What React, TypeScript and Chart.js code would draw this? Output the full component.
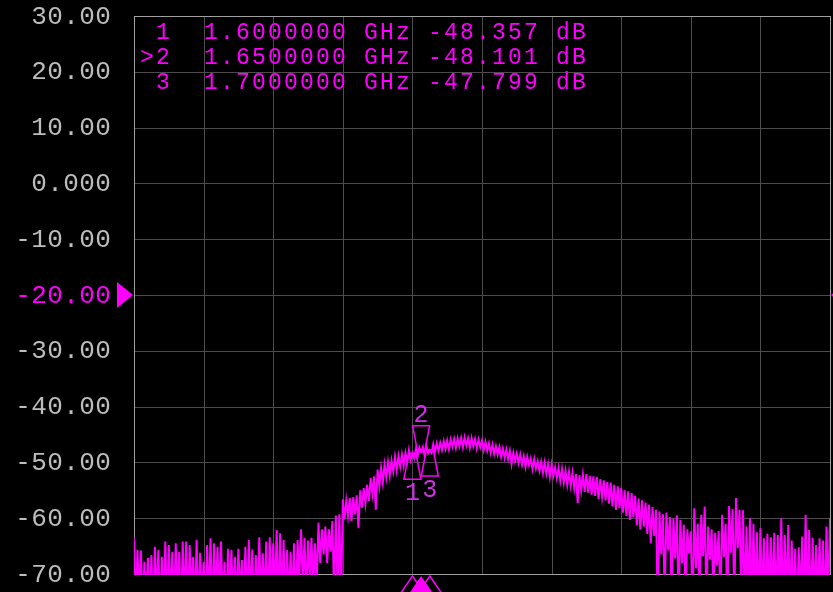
import React, { useEffect, useRef } from "react";
import { Chart, registerables } from "chart.js";

Chart.register(...registerables);

// ---------------- data ----------------
const FREQ_START_GHZ = 0;
const FREQ_STOP_GHZ = 4;
const X_GRID_GHZ = [0, 0.4, 0.8, 1.2, 1.6, 2.0, 2.4, 2.8, 3.2, 3.6, 4.0];
const Y_TICKS = [30, 20, 10, 0, -10, -20, -30, -40, -50, -60, -70];
const Y_TICK_LABELS = ["30.00", "20.00", "10.00", "0.000", "-10.00", "-20.00", "-30.00", "-40.00", "-50.00", "-60.00", "-70.00"];
const REF_LEVEL_DB = -20;

const MARKER_IDS = ["1", "2", "3"];
const MARKER_FREQ_GHZ = [1.6, 1.65, 1.7];
const MARKER_FREQ_TEXT = ["1.6000000 GHz", "1.6500000 GHz", "1.7000000 GHz"];
const MARKER_VALUE_DB = [-48.357, -48.101, -47.799];
const ACTIVE_MARKER = 1;
const MARKER_BELOW = [true, false, true];

// trace, dB, one value per sweep point (401 points from start to stop)
const TRACE_DB = [
  -63.4, -76.2, -65.7, -74.8, -65.8, -77.1, -67.8, -73.9, -67.1, -75.5,
  -66.6, -78.0, -65.1, -74.2, -65.7, -76.6, -66.9, -75.0, -64.2, -77.3,
  -64.8, -74.6, -66.0, -76.1, -64.5, -73.8, -66.0, -77.5, -64.2, -75.2,
  -64.2, -76.8, -64.8, -74.1, -66.9, -75.9, -63.9, -77.0, -66.2, -74.4,
  -67.8, -76.3, -64.8, -75.1, -63.6, -77.8, -64.5, -74.7, -65.1, -76.0,
  -64.2, -75.4, -67.8, -77.2, -65.5, -74.0, -65.7, -76.5, -66.9, -75.3,
  -65.5, -73.7, -67.5, -76.9, -65.1, -75.6, -63.9, -74.5, -65.6, -77.4,
  -66.6, -75.0, -63.4, -76.2, -66.3, -74.3, -64.2, -77.1, -63.4, -75.7,
  -64.5, -73.9, -62.1, -76.4, -62.7, -74.9, -63.9, -77.6, -65.7, -75.1,
  -66.0, -74.2, -64.5, -76.7, -63.9, -71.0, -62.0, -72.0, -63.5, -74.0,
  -64.0, -71.0, -63.5, -73.0, -64.5, -72.0, -60.8, -68.0, -62.0, -66.5,
  -61.5, -68.0, -62.0, -66.0, -60.5, -74.0, -59.5, -73.0, -59.3, -75.0,
  -56.6, -60.2, -56.9, -59.6, -56.4, -60.5, -56.2, -59.3, -55.9, -61.8,
  -55.0, -58.1, -54.6, -57.4, -54.0, -56.9, -52.8, -55.6, -52.5, -58.5,
  -51.3, -54.2, -51.0, -53.6, -50.4, -52.7, -50.0, -52.4, -49.7, -51.6,
  -49.0, -51.4, -48.9, -50.8, -48.6, -50.6, -48.3, -49.9, -47.8, -49.6,
  -48.357, -49.3, -47.6, -48.9, -47.3, -48.101, -47.2, -48.8, -47.0, -48.4,
  -47.799, -48.3, -46.7, -48.1, -46.6, -47.9, -46.5, -47.8, -46.2, -47.6,
  -46.1, -47.7, -45.9, -47.2, -45.8, -47.4, -45.7, -47.1, -45.6, -47.3,
  -45.5, -47.0, -45.7, -47.4, -45.6, -47.1, -45.8, -47.5, -45.9, -47.3,
  -46.1, -47.8, -46.3, -47.9, -46.6, -48.3, -46.8, -48.5, -47.1, -48.6,
  -47.2, -49.0, -47.5, -49.2, -47.7, -49.4, -47.9, -50.3, -48.3, -49.8,
  -48.4, -50.1, -48.6, -50.4, -48.9, -50.8, -49.0, -50.5, -49.3, -51.2,
  -49.4, -51.1, -49.8, -51.5, -49.9, -51.9, -50.0, -52.0, -50.3, -52.6,
  -50.4, -52.4, -50.9, -52.8, -51.0, -53.3, -51.2, -53.6, -51.5, -54.0,
  -51.7, -54.2, -51.9, -54.6, -52.1, -57.3, -52.3, -55.0, -52.2, -55.3,
  -52.1, -55.4, -52.4, -55.8, -52.5, -56.0, -52.6, -56.6, -53.0, -56.2,
  -53.2, -56.8, -53.5, -57.4, -53.6, -57.9, -54.0, -58.5, -54.3, -58.2,
  -54.6, -59.0, -55.0, -59.6, -55.2, -60.3, -55.5, -59.8, -56.0, -61.3,
  -56.5, -62.0, -56.8, -61.5, -57.2, -62.8, -57.6, -64.5, -58.0, -63.2,
  -58.5, -76.0, -58.8, -66.5, -59.3, -74.0, -59.0, -65.8, -59.8, -75.5,
  -60.1, -67.2, -59.5, -76.3, -60.3, -68.0, -61.2, -74.8, -62.0, -66.3,
  -62.4, -77.0, -58.2, -69.0, -61.0, -75.2, -59.4, -66.8, -57.9, -76.1,
  -61.5, -67.4, -62.0, -74.4, -62.6, -68.5, -62.3, -75.8, -59.4, -67.0,
  -61.0, -76.4, -57.8, -66.2, -58.4, -74.9, -56.4, -65.4, -58.5, -73.5,
  -58.6, -76.5, -61.5, -74.2, -60.0, -77.3, -61.0, -75.0, -62.5, -76.8,
  -61.8, -74.5, -63.6, -77.1, -62.8, -75.6, -63.4, -74.0, -62.6, -76.7,
  -63.0, -75.3, -60.0, -77.4, -63.0, -74.8, -61.2, -76.2, -64.0, -75.1,
  -65.5, -77.0, -65.2, -74.3, -63.3, -76.9, -59.4, -75.4, -62.1, -77.6,
  -63.5, -74.6, -64.8, -76.0, -63.6, -75.2, -64.0, -77.2, -61.5, -74.7,
  -60.0,
];

// ---------------- style ----------------
const TRACE_COLOR = "#ff00ff";
const GRID_COLOR = "#4c4c4c";
const BORDER_COLOR = "#a0a0a0";
const LABEL_COLOR = "#bcbcbc";
const MARKER_LABEL_COLOR = "#d030e8";
const MONO = "'Liberation Mono', 'DejaVu Sans Mono', monospace";
const CHAR_W = 16;

function drawMono(ctx: CanvasRenderingContext2D, text: string, x0: number, baseline: number) {
  ctx.textAlign = "center";
  ctx.textBaseline = "alphabetic";
  for (let k = 0; k < text.length; k++) {
    const ch = text[k];
    if (ch !== " ") ctx.fillText(ch, x0 + k * CHAR_W + CHAR_W / 2, baseline);
  }
}

const vnaPlugin = {
  id: "vnaDecor",
  beforeDatasetsDraw(chart: any) {
    const { ctx, chartArea: a, scales } = chart;
    const xs = scales.x;
    const ys = scales.y;
    ctx.save();
    ctx.lineWidth = 1;
    ctx.strokeStyle = GRID_COLOR;
    ctx.beginPath();
    for (const g of X_GRID_GHZ) {
      const px = Math.round(xs.getPixelForValue(g)) + 0.5;
      ctx.moveTo(px, a.top);
      ctx.lineTo(px, a.bottom);
    }
    for (const t of Y_TICKS) {
      const py = Math.round(ys.getPixelForValue(t)) + 0.5;
      ctx.moveTo(a.left, py);
      ctx.lineTo(a.right, py);
    }
    ctx.stroke();
    ctx.strokeStyle = BORDER_COLOR;
    ctx.strokeRect(Math.round(a.left) + 0.5, Math.round(a.top) + 0.5, Math.round(a.right - a.left), Math.round(a.bottom - a.top));
    ctx.restore();
  },
  afterDraw(chart: any) {
    const { ctx, chartArea: a, scales } = chart;
    const xs = scales.x;
    const ys = scales.y;
    ctx.save();

    // y labels
    ctx.font = `26px ${MONO}`;
    Y_TICKS.forEach((t, i) => {
      const label = Y_TICK_LABELS[i];
      const py = ys.getPixelForValue(t);
      ctx.fillStyle = t === REF_LEVEL_DB ? TRACE_COLOR : LABEL_COLOR;
      const x0 = 111 - label.length * CHAR_W;
      drawMono(ctx, label, x0, py + 7.5);
    });

    // reference level triangles
    const ry = ys.getPixelForValue(REF_LEVEL_DB);
    ctx.fillStyle = TRACE_COLOR;
    ctx.beginPath();
    ctx.moveTo(a.left - 1, ry);
    ctx.lineTo(a.left - 17, ry - 13);
    ctx.lineTo(a.left - 17, ry + 13);
    ctx.closePath();
    ctx.fill();
    ctx.beginPath();
    ctx.moveTo(a.right + 1, ry);
    ctx.lineTo(a.right + 13, ry - 10);
    ctx.lineTo(a.right + 13, ry + 10);
    ctx.closePath();
    ctx.fill();

    // marker table
    ctx.font = `23px ${MONO}`;
    ctx.fillStyle = TRACE_COLOR;
    MARKER_IDS.forEach((id, i) => {
      const row = (i === ACTIVE_MARKER ? ">" : " ") + id + "  " + MARKER_FREQ_TEXT[i] + " " + MARKER_VALUE_DB[i].toFixed(3) + " dB";
      drawMono(ctx, row, 139, 39 + i * 25);
    });

    // markers on trace
    ctx.lineWidth = 1.5;
    ctx.strokeStyle = TRACE_COLOR;
    MARKER_IDS.forEach((id, i) => {
      const cx = xs.getPixelForValue(MARKER_FREQ_GHZ[i]);
      const cy = ys.getPixelForValue(MARKER_VALUE_DB[i]);
      const dir = MARKER_BELOW[i] ? 1 : -1;
      ctx.beginPath();
      ctx.moveTo(cx - 3.5, cy);
      ctx.lineTo(cx + 3.5, cy);
      ctx.lineTo(cx + 8.5, cy + dir * 26);
      ctx.lineTo(cx - 8.5, cy + dir * 26);
      ctx.closePath();
      ctx.stroke();
      ctx.font = `25px ${MONO}`;
      ctx.fillStyle = MARKER_LABEL_COLOR;
      ctx.textAlign = "center";
      ctx.textBaseline = "alphabetic";
      ctx.fillText(id, cx, MARKER_BELOW[i] ? cy + 47 : cy - 30);
    });

    // stimulus markers under the x axis
    const baseY = a.bottom + 2;
    MARKER_IDS.forEach((id, i) => {
      const cx = xs.getPixelForValue(MARKER_FREQ_GHZ[i]);
      ctx.beginPath();
      ctx.moveTo(cx, baseY);
      ctx.lineTo(cx + 13, baseY + 19);
      ctx.lineTo(cx - 13, baseY + 19);
      ctx.closePath();
      if (i === ACTIVE_MARKER) {
        ctx.fillStyle = TRACE_COLOR;
        ctx.fill();
      } else {
        ctx.strokeStyle = TRACE_COLOR;
        ctx.lineWidth = 1.5;
        ctx.stroke();
      }
    });

    ctx.restore();
  },
};

export default function App() {
  const canvasRef = useRef<HTMLCanvasElement | null>(null);

  useEffect(() => {
    document.body.style.margin = "0";
    document.body.style.background = "#000";
    const canvas = canvasRef.current;
    if (!canvas) return;
    const step = (FREQ_STOP_GHZ - FREQ_START_GHZ) / (TRACE_DB.length - 1);
    const points = TRACE_DB.map((v, i) => ({ x: FREQ_START_GHZ + i * step, y: v }));

    const chart = new Chart(canvas, {
      type: "line",
      data: {
        datasets: [
          {
            data: points,
            borderColor: TRACE_COLOR,
            borderWidth: 2,
            pointRadius: 0,
            tension: 0,
            fill: false,
            clip: { left: 0, top: 0, right: 0, bottom: 1 } as any,
          },
        ],
      },
      options: {
        responsive: false,
        animation: false,
        layout: { padding: { left: 134, top: 16, right: 3, bottom: 18 } },
        plugins: { legend: { display: false }, tooltip: { enabled: false } },
        scales: {
          x: { type: "linear", display: false, min: FREQ_START_GHZ, max: FREQ_STOP_GHZ },
          y: { type: "linear", display: false, min: -70, max: 30 },
        },
      },
      plugins: [vnaPlugin],
    });
    return () => chart.destroy();
  }, []);

  return (
    <div style={{ width: 833, height: 592, background: "#000" }}>
      <canvas ref={canvasRef} width={833} height={592} style={{ display: "block" }} />
    </div>
  );
}
